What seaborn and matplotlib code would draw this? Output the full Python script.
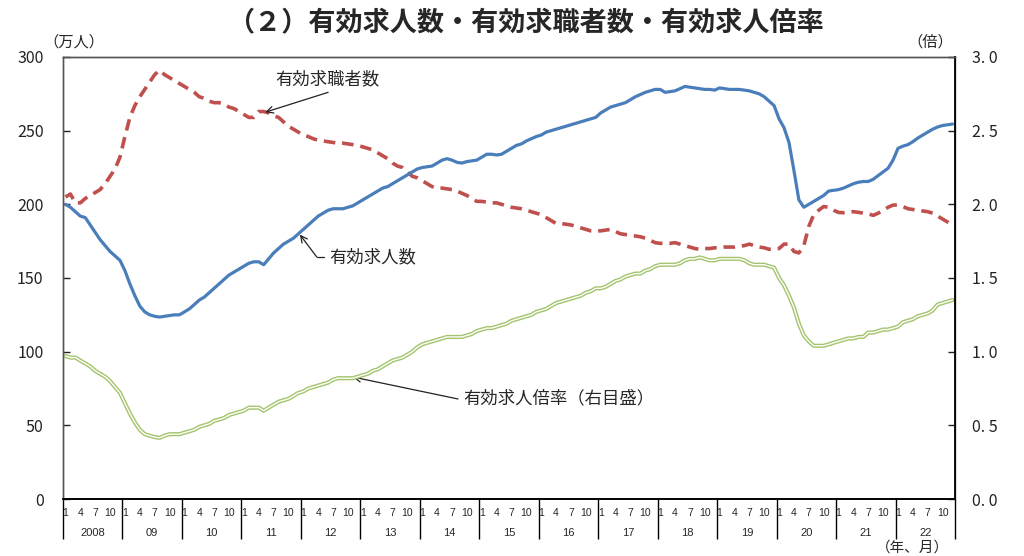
import numpy as np
import pandas as pd
import matplotlib
matplotlib.use("Agg")
import matplotlib.pyplot as plt
import seaborn as sns

# monthly values, Jan 2008 - Dec 2022 (one row per year)
openings = [  # 有効求人数 (万人)
    200, 198, 195, 192, 191, 186, 181, 176, 172, 168, 165, 162,
    155, 146, 138, 131, 127, 125, 124, 123.5, 124, 124.5, 125, 125,
    127, 129, 132, 135, 137, 140, 143, 146, 149, 152, 154, 156,
    158, 160, 161, 161, 159, 163, 167, 170, 173, 175, 177, 180,
    183, 186, 189, 192, 194, 196, 197, 197, 197, 198, 199, 201,
    203, 205, 207, 209, 211, 212, 214, 216, 218, 220, 222, 224,
    225, 225.5, 226, 228, 230, 231, 230, 228.5, 228, 229, 229.5, 230,
    232, 234, 234, 233.5, 234, 236, 238, 240, 241, 243, 244.5, 246,
    247, 249, 250, 251, 252, 253, 254, 255, 256, 257, 258, 259,
    262, 264, 266, 267, 268, 269, 271, 273, 274.5, 276, 277, 278,
    278, 276, 276.5, 277, 278.5, 280, 279.5, 279, 278.5, 278, 278, 277.5,
    279, 278.5, 278, 278, 278, 277.5, 277, 276, 275, 273, 270, 267,
    258, 252, 242, 223, 203, 198, 200, 202, 204, 206, 209, 209.5,
    210, 211, 212.5, 214, 215, 215.5, 215.5, 217, 219.5, 222, 224.5, 230,
    238, 239.5, 240.5, 242.5, 245, 247, 249, 251, 252.5, 253.5, 254, 254.5,
]
applicants = [  # 有効求職者数 (万人)
    205, 207, 201, 201, 204, 206, 208, 210, 214, 219, 224, 232,
    246, 259, 267, 273, 278, 283, 288, 291, 288, 286, 284, 282,
    280, 278, 276, 273, 272, 270, 269, 269, 268, 266, 265, 263,
    261, 259, 259, 263, 263, 262, 260, 259, 256, 253, 251, 249,
    247, 246, 244.5, 243.5, 243, 242.5, 242, 241.5, 241.5, 241, 240.5, 240,
    239, 238, 237, 235, 233, 231, 228, 226, 225, 222, 219, 218,
    216, 214, 212, 211, 211, 210.5, 210, 209, 207.5, 206, 204, 202,
    202, 201.5, 201, 201, 200, 199, 198, 197.5, 197, 196, 195, 194,
    193, 191, 189, 187, 187, 186.5, 186, 185, 184, 183, 182, 182,
    182, 182.5, 183, 181.5, 180, 179.5, 179, 178.5, 178, 177, 175.5, 174,
    173.5, 173.5, 173.5, 174, 173, 172, 171, 170, 169.5, 170, 170, 170.5,
    170.5, 171, 171, 171, 171.5, 172, 173, 172, 171, 170.5, 169.5, 170,
    170, 173, 173, 168, 167, 172, 185, 193, 196, 198.5, 198, 196,
    194.5, 194.3, 194.5, 195, 194.6, 194, 193.5, 192.5, 194, 196, 198, 199.5,
    199.5, 198.5, 197, 196.5, 196, 195.5, 195, 194, 192, 190, 188, 186,
]
ratio = [  # 有効求人倍率 (倍)
    0.97, 0.96, 0.96, 0.94, 0.92, 0.90, 0.87, 0.85, 0.83, 0.80, 0.76, 0.72,
    0.65, 0.58, 0.52, 0.47, 0.44, 0.43, 0.42, 0.415, 0.43, 0.44, 0.44, 0.44,
    0.45, 0.46, 0.47, 0.49, 0.50, 0.51, 0.53, 0.54, 0.55, 0.57, 0.58, 0.59,
    0.60, 0.62, 0.62, 0.62, 0.60, 0.62, 0.64, 0.66, 0.67, 0.68, 0.70, 0.72,
    0.73, 0.75, 0.76, 0.77, 0.78, 0.79, 0.81, 0.82, 0.82, 0.82, 0.82, 0.83,
    0.84, 0.85, 0.87, 0.88, 0.90, 0.92, 0.94, 0.95, 0.96, 0.98, 1.00, 1.03,
    1.05, 1.06, 1.07, 1.08, 1.09, 1.10, 1.10, 1.10, 1.10, 1.11, 1.12, 1.14,
    1.15, 1.16, 1.16, 1.17, 1.18, 1.19, 1.21, 1.22, 1.23, 1.24, 1.25, 1.27,
    1.28, 1.29, 1.31, 1.33, 1.34, 1.35, 1.36, 1.37, 1.38, 1.40, 1.41, 1.43,
    1.43, 1.44, 1.46, 1.48, 1.49, 1.51, 1.52, 1.53, 1.53, 1.55, 1.56, 1.58,
    1.59, 1.59, 1.59, 1.59, 1.60, 1.62, 1.63, 1.63, 1.64, 1.63, 1.62, 1.62,
    1.63, 1.63, 1.63, 1.63, 1.63, 1.62, 1.60, 1.59, 1.59, 1.59, 1.58, 1.57,
    1.50, 1.45, 1.38, 1.30, 1.19, 1.11, 1.07, 1.04, 1.04, 1.04, 1.05, 1.06,
    1.07, 1.08, 1.09, 1.09, 1.10, 1.10, 1.13, 1.13, 1.14, 1.15, 1.15, 1.16,
    1.17, 1.20, 1.21, 1.22, 1.24, 1.25, 1.26, 1.28, 1.32, 1.33, 1.34, 1.35,
]
year_labels = ["2008", "09", "10", "11", "12", "13", "14", "15",
               "16", "17", "18", "19", "20", "21", "22"]
month_labels = [1, 4, 7, 10]
left_ticks = [0, 50, 100, 150, 200, 250, 300]
right_ticks = [0.0, 0.5, 1.0, 1.5, 2.0, 2.5, 3.0]

df = pd.DataFrame({
    "month": np.arange(len(openings)) + 0.5,
    "openings": openings,
    "applicants": applicants,
    "ratio": ratio,
})

sns.set_theme(style="white")
plt.rcParams["font.family"] = ["Noto Sans CJK JP", "DejaVu Sans"]

fig = plt.figure(figsize=(10.24, 5.56), dpi=100)
ax = fig.add_axes([0.0615, 0.1025, 0.8711, 0.795])
ax2 = ax.twinx()

# ratio on right axis: double (compound) green line
sns.lineplot(data=df, x="month", y="ratio", ax=ax2, color="#a3c46c", linewidth=3.0)
sns.lineplot(data=df, x="month", y="ratio", ax=ax2, color="white", linewidth=1.0)
sns.lineplot(data=df, x="month", y="applicants", ax=ax, color="#c0504d",
             linewidth=2.6, linestyle=(0, (3.2, 1.9)))
sns.lineplot(data=df, x="month", y="openings", ax=ax, color="#4a7ebb", linewidth=2.3)

ax.set_xlim(0, len(openings))
ax.set_ylim(0, 300)
ax2.set_ylim(0, 3.0)
ax.set_xlabel("")
ax.set_ylabel("")
ax2.set_xlabel("")
ax2.set_ylabel("")

ax.set_yticks(left_ticks)
ax.set_yticklabels([str(t) for t in left_ticks], fontsize=11.5)
ax2.set_yticks(right_ticks)
ax2.set_yticklabels([f"{t:.1f}".replace(".", ". ") for t in right_ticks], fontsize=11.5)
ax.tick_params(axis="y", direction="in", length=5, width=1, pad=14, colors="#222")
ax2.tick_params(axis="y", direction="in", length=5, width=1, pad=12, colors="#222")

ax.set_xticks(np.arange(0, len(openings) + 1, 12))
ax.tick_params(axis="x", direction="out", length=29, width=1, color="black",
               labelbottom=False, bottom=True)

for a in (ax, ax2):
    for side in ("left", "right", "top"):
        a.spines[side].set_color("#555")
        a.spines[side].set_linewidth(1)
    a.spines["bottom"].set_color("black")
    a.spines["bottom"].set_linewidth(1.2)
ax2.spines["right"].set_color("black")
ax2.spines["right"].set_linewidth(1.3)

trans = ax.get_xaxis_transform()
for k, yl in enumerate(year_labels):
    for mm in month_labels:
        ax.text(12 * k + mm - 0.5, -0.032, str(mm), transform=trans,
                ha="center", va="center", fontsize=7.5, family=["Liberation Sans", "DejaVu Sans"])
    ax.text(12 * k + 6, -0.078, yl, transform=trans, ha="center", va="center",
            fontsize=8, family=["Liberation Sans", "DejaVu Sans"])

# annotations
arrow = dict(arrowstyle="->", color="#222", lw=0.9, shrinkA=0, shrinkB=0)
ax.annotate("", xy=(40.8, 262.5), xytext=(53.5, 276), arrowprops=arrow)
ax.text(42.8, 284.5, "有効求職者数", fontsize=12.5, ha="left", va="center")
ax.annotate("", xy=(47.8, 179.5), xytext=(51.2, 164.3), arrowprops=arrow)
ax.plot([51.2, 52.7], [164.3, 164.3], color="#222", lw=0.9)
ax.text(53.8, 164.3, "有効求人数", fontsize=12.5, ha="left", va="center")
ax.annotate("", xy=(58.5, 82.8), xytext=(79.7, 67.9), arrowprops=arrow)
ax.text(80.8, 68.6, "有効求人倍率（右目盛）", fontsize=12.5, ha="left", va="center")

fig.text(0.513, 1 - 22 / 556, "（２）有効求人数・有効求職者数・有効求人倍率",
         ha="center", va="center", fontsize=19.5, fontweight="bold")
fig.text(74 / 1024, 1 - 42 / 556, "（万人）", ha="center", va="center", fontsize=11)
fig.text(930 / 1024, 1 - 42 / 556, "（倍）", ha="center", va="center", fontsize=11)
fig.text(912 / 1024, 1 - 548 / 556, "（年、月）", ha="center", va="center", fontsize=10.5)

fig.savefig("out.png", dpi=100)
